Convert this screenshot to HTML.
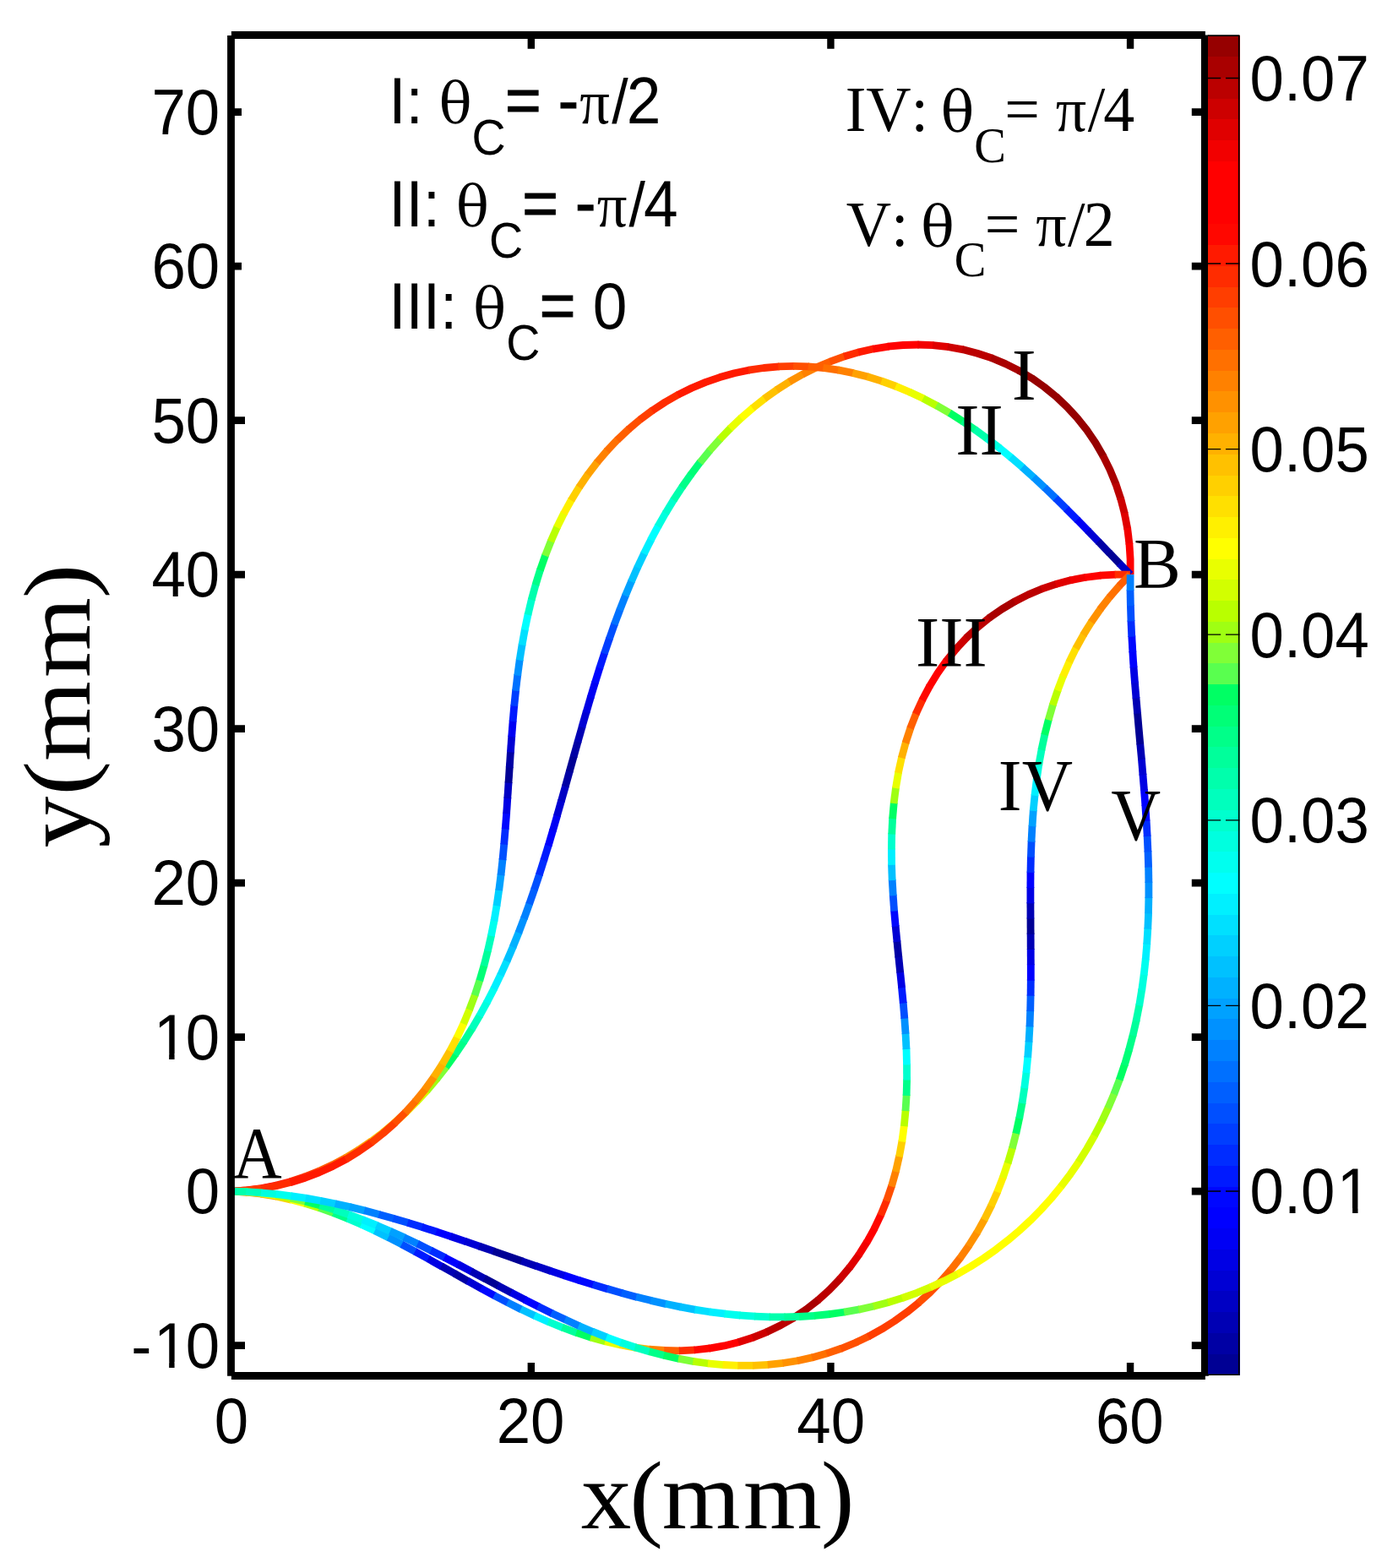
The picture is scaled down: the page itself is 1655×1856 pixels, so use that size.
<!DOCTYPE html>
<html lang="en"><head><meta charset="utf-8"><title>Curves from A to B for different end angles</title>
<style>html,body{margin:0;padding:0;background:#fff}body{width:1655px;height:1856px;overflow:hidden}svg{display:block}.s{font-family:"Liberation Sans",sans-serif}.r{font-family:"Liberation Serif",serif}.d{font-family:"DejaVu Serif","Liberation Serif",serif}text{fill:#000;font-kerning:none;white-space:pre}</style></head><body>
<svg width="1655" height="1856" viewBox="0 0 1655 1856">
<rect width="1655" height="1856" fill="#fff"/>
<g stroke="#000" fill="none" stroke-linecap="butt">
<path stroke-width="8.4" d="M628.82 1628.50 V1613.00 M628.82 41.45 V57.70 M983.44 1628.50 V1613.00 M983.44 41.45 V57.70 M1338.06 1628.50 V1613.00 M1338.06 41.45 V57.70"/>
<path stroke-width="8.8" d="M273.50 1592.60 H290.00 M1426.40 1592.60 H1410.80 M273.50 1410.10 H290.00 M1426.40 1410.10 H1410.80 M273.50 1227.60 H290.00 M1426.40 1227.60 H1410.80 M273.50 1045.10 H290.00 M1426.40 1045.10 H1410.80 M273.50 862.60 H290.00 M1426.40 862.60 H1410.80 M273.50 680.10 H290.00 M1426.40 680.10 H1410.80 M273.50 497.60 H290.00 M1426.40 497.60 H1410.80 M273.50 315.10 H286.00 M1426.40 315.10 H1410.80 M273.50 132.60 H286.00 M1426.40 132.60 H1410.80"/>
</g>
<defs><clipPath id="ax"><rect x="277.9" y="46.0" width="1144.1" height="1578.0"/></clipPath></defs>
<g fill="none" stroke-width="8.8" stroke-linecap="butt" stroke-linejoin="round" clip-path="url(#ax)">
<path d="M274.2 1410.1 L291.9 1408.9 L309.5 1406.6 L327.5 1403.0" stroke="#ff0000"/>
<path d="M326.3 1403.3 L344.6 1398.4" stroke="#ff1a00"/>
<path d="M343.5 1398.7 L361.5 1392.8" stroke="#ff2c00"/>
<path d="M360.4 1393.2 L378.0 1386.1" stroke="#ff3e00"/>
<path d="M376.9 1386.6 L394.2 1378.6" stroke="#ff5f00"/>
<path d="M393.1 1379.1 L409.9 1370.1" stroke="#ff7000"/>
<path d="M408.8 1370.7 L425.1 1360.8" stroke="#ff9100"/>
<path d="M424.1 1361.4 L439.9 1350.7" stroke="#ffa100"/>
<path d="M438.9 1351.4 L454.2 1339.9" stroke="#ffc100"/>
<path d="M453.2 1340.6 L467.9 1328.3" stroke="#ffd000"/>
<path d="M467.0 1329.1 L481.1 1316.2" stroke="#fff000"/>
<path d="M480.3 1317.0 L493.8 1303.4" stroke="#e9ff00"/>
<path d="M493.0 1304.3 L506.0 1290.2" stroke="#d2ff00"/>
<path d="M505.2 1291.1 L517.6 1276.4" stroke="#9fff13"/>
<path d="M516.9 1277.3 L528.7 1262.2" stroke="#80ff37"/>
<path d="M528.0 1263.1 L539.3 1247.5" stroke="#00ff64"/>
<path d="M538.6 1248.5 L549.4 1232.5" stroke="#00ff89"/>
<path d="M548.8 1233.5 L559.0 1217.2" stroke="#00ff9b"/>
<path d="M558.4 1218.2 L568.2 1201.6" stroke="#00ffbd"/>
<path d="M567.6 1202.6 L576.9 1185.7" stroke="#00ffdf"/>
<path d="M576.3 1186.7 L585.2 1169.5" stroke="#00ffef"/>
<path d="M584.6 1170.6 L593.0 1153.2" stroke="#00f0ff"/>
<path d="M592.5 1154.2 L600.5 1136.6" stroke="#00e0ff"/>
<path d="M600.0 1137.7 L607.6 1119.9" stroke="#00c1ff"/>
<path d="M607.1 1121.0 L614.4 1103.0" stroke="#00b1ff"/>
<path d="M613.9 1104.1 L620.8 1086.0" stroke="#0091ff"/>
<path d="M620.4 1087.2 L627.0 1068.9" stroke="#0081ff"/>
<path d="M626.6 1070.1 L633.0 1051.7" stroke="#005fff"/>
<path d="M632.6 1052.9 L638.7 1034.5" stroke="#004fff"/>
<path d="M638.3 1035.6 L644.2 1017.1" stroke="#002cff"/>
<path d="M643.8 1018.3 L649.5 999.7" stroke="#001aff"/>
<path d="M649.2 1000.9 L654.7 982.3" stroke="#0000ff"/>
<path d="M654.4 983.4 L659.8 964.8" stroke="#0000f4"/>
<path d="M659.4 965.9 L664.7 947.2" stroke="#0000d4"/>
<path d="M664.4 948.4 L669.7 929.7" stroke="#0000c4"/>
<path d="M669.3 930.9 L674.5 912.2" stroke="#0000a4"/>
<path d="M674.2 913.3 L679.4 894.6" stroke="#000094"/>
<path d="M679.1 895.8 L684.3 877.1" stroke="#0000a4"/>
<path d="M684.0 878.2 L689.3 859.6" stroke="#0000b4"/>
<path d="M688.9 860.7 L694.3 842.1" stroke="#0000d4"/>
<path d="M694.0 843.2 L699.5 824.6" stroke="#0000e4"/>
<path d="M699.1 825.7 L704.7 807.2" stroke="#0000f4"/>
<path d="M704.4 808.3 L710.2 789.8" stroke="#0007ff"/>
<path d="M709.8 790.9 L715.8 772.5" stroke="#001aff"/>
<path d="M715.4 773.6 L721.7 755.3" stroke="#003eff"/>
<path d="M721.3 756.4 L727.7 738.1" stroke="#004fff"/>
<path d="M727.3 739.3 L734.1 721.1" stroke="#0070ff"/>
<path d="M733.7 722.2 L740.8 704.2" stroke="#0081ff"/>
<path d="M740.3 705.3 L747.8 687.4" stroke="#00a1ff"/>
<path d="M747.3 688.5 L755.1 670.8" stroke="#00c1ff"/>
<path d="M754.6 671.9 L762.9 654.4" stroke="#00d0ff"/>
<path d="M762.3 655.5 L771.0 638.2" stroke="#00f0ff"/>
<path d="M770.4 639.2 L779.5 622.2" stroke="#00ffff"/>
<path d="M778.9 623.2 L788.5 606.4" stroke="#00ffdf"/>
<path d="M787.9 607.5 L797.9 591.0" stroke="#00ffce"/>
<path d="M797.3 592.0 L807.9 575.9" stroke="#00ffac"/>
<path d="M807.2 576.9 L818.3 561.1" stroke="#00ff89"/>
<path d="M817.6 562.1 L829.2 546.7" stroke="#00ff77"/>
<path d="M828.5 547.7 L840.7 532.8" stroke="#59ff4f"/>
<path d="M839.9 533.7 L852.7 519.3" stroke="#80ff37"/>
<path d="M851.8 520.2 L865.2 506.4" stroke="#b9ff00"/>
<path d="M864.3 507.3 L878.2 494.0" stroke="#e9ff00"/>
<path d="M877.3 494.8 L891.8 482.3" stroke="#ffff00"/>
<path d="M890.9 483.1 L905.9 471.2" stroke="#ffe000"/>
<path d="M904.9 471.9 L920.5 460.9" stroke="#ffc100"/>
<path d="M919.5 461.5 L935.6 451.3" stroke="#ffb100"/>
<path d="M934.5 451.9 L951.1 442.5" stroke="#ff9100"/>
<path d="M950.1 443.1 L967.1 434.6" stroke="#ff8100"/>
<path d="M966.0 435.1 L983.5 427.7" stroke="#ff5f00"/>
<path d="M982.4 428.1 L1000.3 421.7" stroke="#ff4f00"/>
<path d="M999.1 422.0 L1017.3 416.7" stroke="#ff2c00"/>
<path d="M1016.2 417.0 L1034.7 412.8" stroke="#ff1a00"/>
<path d="M1033.5 413.1 L1052.2 410.1" stroke="#ff0700"/>
<path d="M1051.0 410.2 L1069.2 408.5 L1087.6 408.0" stroke="#ff0000"/>
<path d="M1086.4 408.0 L1105.3 408.7" stroke="#f20000"/>
<path d="M1104.1 408.6 L1122.9 410.7" stroke="#e00000"/>
<path d="M1121.7 410.5 L1140.4 413.9" stroke="#cd0000"/>
<path d="M1139.2 413.6 L1157.0 418.2 L1174.4 423.9" stroke="#bb0000"/>
<path d="M1173.3 423.5 L1190.3 430.6 L1206.8 438.9" stroke="#a90000"/>
<path d="M1205.7 438.3 L1221.6 447.7 L1236.2 458.0 L1250.1 469.3 L1263.2 481.7 L1275.4 495.0 L1286.6 509.1 L1296.8 524.0 L1306.2 540.2" stroke="#960000"/>
<path d="M1305.6 539.1 L1313.9 555.9 L1321.1 573.3" stroke="#a90000"/>
<path d="M1320.7 572.2 L1326.8 590.6" stroke="#bb0000"/>
<path d="M1326.5 589.4 L1331.4 608.2" stroke="#cd0000"/>
<path d="M1331.1 607.0 L1334.8 626.1" stroke="#e00000"/>
<path d="M1334.6 624.9 L1337.0 644.2" stroke="#f20000"/>
<path d="M1336.9 643.0 L1338.1 661.8 L1338.1 680.1" stroke="#ff0000"/>
<path d="M274.2 1410.1 L291.9 1409.0 L310.1 1406.9" stroke="#ff3e00"/>
<path d="M308.9 1407.0 L327.0 1403.7 L344.8 1399.3" stroke="#ff2c00"/>
<path d="M343.6 1399.7 L361.2 1394.2 L377.8 1387.8 L394.0 1380.4 L410.3 1371.8" stroke="#ff1a00"/>
<path d="M409.3 1372.4 L425.0 1362.7 L440.2 1352.1" stroke="#ff2c00"/>
<path d="M439.2 1352.9 L453.7 1341.4 L467.6 1329.1" stroke="#ff3e00"/>
<path d="M466.7 1329.9 L480.3 1316.3" stroke="#ff4f00"/>
<path d="M479.5 1317.2 L492.4 1302.9" stroke="#ff7000"/>
<path d="M491.6 1303.8 L503.7 1288.9" stroke="#ff8100"/>
<path d="M502.9 1289.8 L514.2 1274.2" stroke="#ff9100"/>
<path d="M513.5 1275.2 L524.1 1259.0" stroke="#ffb100"/>
<path d="M523.4 1260.0 L533.2 1243.3" stroke="#ffc100"/>
<path d="M532.6 1244.4 L541.5 1227.3" stroke="#ffe000"/>
<path d="M541.0 1228.3 L549.2 1210.8" stroke="#ffff00"/>
<path d="M548.7 1211.9 L556.2 1194.0" stroke="#d2ff00"/>
<path d="M555.7 1195.1 L562.5 1177.0" stroke="#9fff13"/>
<path d="M562.1 1178.1 L568.1 1159.7" stroke="#59ff4f"/>
<path d="M567.8 1160.8 L573.2 1142.2" stroke="#00ff77"/>
<path d="M572.9 1143.3 L577.7 1124.5" stroke="#00ff9b"/>
<path d="M577.4 1125.7 L581.7 1106.8" stroke="#00ffbd"/>
<path d="M581.4 1107.9 L585.2 1088.9" stroke="#00ffef"/>
<path d="M585.0 1090.0 L588.2 1070.9" stroke="#00f0ff"/>
<path d="M588.0 1072.1 L590.8 1052.8" stroke="#00d0ff"/>
<path d="M590.7 1054.0 L593.1 1034.7" stroke="#00a1ff"/>
<path d="M593.0 1035.9 L595.1 1016.6" stroke="#0081ff"/>
<path d="M595.0 1017.8 L596.8 998.4" stroke="#004fff"/>
<path d="M596.7 999.6 L598.3 980.2" stroke="#002cff"/>
<path d="M598.2 981.4 L599.7 962.1" stroke="#0007ff"/>
<path d="M599.6 963.2 L600.9 943.8" stroke="#0000e4"/>
<path d="M600.8 945.0 L602.1 925.6" stroke="#0000c4"/>
<path d="M602.0 926.8 L603.3 907.4" stroke="#000094"/>
<path d="M603.2 908.6 L604.5 889.2" stroke="#0000a4"/>
<path d="M604.4 890.4 L605.8 871.0" stroke="#0000d4"/>
<path d="M605.7 872.2 L607.2 852.8" stroke="#0000f4"/>
<path d="M607.1 854.0 L608.8 834.7" stroke="#001aff"/>
<path d="M608.7 835.8 L610.7 816.5" stroke="#003eff"/>
<path d="M610.5 817.7 L612.8 798.4" stroke="#0070ff"/>
<path d="M612.7 799.6 L615.3 780.3" stroke="#0091ff"/>
<path d="M615.1 781.5 L618.2 762.3" stroke="#00c1ff"/>
<path d="M618.0 763.5 L621.5 744.4" stroke="#00e0ff"/>
<path d="M621.2 745.6 L625.2 726.5" stroke="#00ffff"/>
<path d="M625.0 727.7 L629.5 708.8" stroke="#00ffce"/>
<path d="M629.2 710.0 L634.3 691.3" stroke="#00ffac"/>
<path d="M634.0 692.4 L639.7 673.9" stroke="#00ff89"/>
<path d="M639.4 675.0 L645.8 656.7" stroke="#00ff64"/>
<path d="M645.4 657.8 L652.5 639.8" stroke="#80ff37"/>
<path d="M652.0 640.9 L659.8 623.2" stroke="#b9ff00"/>
<path d="M659.3 624.3 L667.9 607.0" stroke="#e9ff00"/>
<path d="M667.4 608.0 L676.7 591.1" stroke="#fff000"/>
<path d="M676.1 592.2 L686.2 575.7" stroke="#ffd000"/>
<path d="M685.6 576.7 L696.5 560.8" stroke="#ffb100"/>
<path d="M695.8 561.8 L707.5 546.5" stroke="#ffa100"/>
<path d="M706.7 547.5 L719.2 532.8" stroke="#ff8100"/>
<path d="M718.4 533.7 L731.6 519.8" stroke="#ff7000"/>
<path d="M730.8 520.7 L744.8 507.5" stroke="#ff5f00"/>
<path d="M743.9 508.3 L758.5 496.0" stroke="#ff4f00"/>
<path d="M757.6 496.8 L772.9 485.4" stroke="#ff3e00"/>
<path d="M772.0 486.1 L787.4 476.0 L803.5 466.8" stroke="#ff2c00"/>
<path d="M802.4 467.4 L818.9 459.3 L835.4 452.4 L852.2 446.6 L869.3 441.8 L887.2 438.0" stroke="#ff1a00"/>
<path d="M886.1 438.2 L904.2 435.5 L922.5 433.8" stroke="#ff2c00"/>
<path d="M921.3 433.9 L940.2 433.4" stroke="#ff3e00"/>
<path d="M939.0 433.4 L957.9 433.9" stroke="#ff4f00"/>
<path d="M956.7 433.9 L975.6 435.5" stroke="#ff5f00"/>
<path d="M974.4 435.4 L993.1 438.1" stroke="#ff7000"/>
<path d="M991.9 437.9 L1010.5 441.6" stroke="#ff8100"/>
<path d="M1009.3 441.4 L1027.7 446.1" stroke="#ffa100"/>
<path d="M1026.6 445.7 L1044.7 451.4" stroke="#ffb100"/>
<path d="M1043.5 451.0 L1061.4 457.5" stroke="#ffd000"/>
<path d="M1060.3 457.1 L1077.8 464.5" stroke="#fff000"/>
<path d="M1076.7 464.0 L1093.9 472.1" stroke="#e9ff00"/>
<path d="M1092.8 471.6 L1109.6 480.5" stroke="#b9ff00"/>
<path d="M1108.6 479.9 L1125.1 489.4" stroke="#80ff37"/>
<path d="M1124.1 488.8 L1140.2 499.0" stroke="#00ff64"/>
<path d="M1139.2 498.3 L1155.0 509.1" stroke="#00ff89"/>
<path d="M1154.0 508.4 L1169.4 519.6" stroke="#00ffac"/>
<path d="M1168.5 518.9 L1183.6 530.6" stroke="#00ffdf"/>
<path d="M1182.7 529.9 L1197.5 542.0" stroke="#00ffff"/>
<path d="M1196.5 541.2 L1211.1 553.7" stroke="#00e0ff"/>
<path d="M1210.2 552.9 L1224.4 565.7" stroke="#00b1ff"/>
<path d="M1223.5 564.9 L1237.5 578.0" stroke="#0091ff"/>
<path d="M1236.7 577.2 L1250.5 590.5" stroke="#0070ff"/>
<path d="M1249.6 589.6 L1263.3 603.1" stroke="#003eff"/>
<path d="M1262.4 602.3 L1275.9 615.9" stroke="#001aff"/>
<path d="M1275.1 615.0 L1288.5 628.8" stroke="#0000f4"/>
<path d="M1287.6 627.9 L1301.0 641.7" stroke="#0000d4"/>
<path d="M1300.1 640.8 L1313.4 654.7" stroke="#0000a4"/>
<path d="M1312.6 653.8 L1325.9 667.6" stroke="#000094"/>
<path d="M1325.1 666.8 L1338.1 680.1" stroke="#0000c4"/>
<path d="M274.2 1410.1 L292.5 1411.2" stroke="#ff4f00"/>
<path d="M291.3 1411.1 L310.1 1413.2" stroke="#ff8100"/>
<path d="M308.9 1413.1 L327.6 1416.2" stroke="#ffa100"/>
<path d="M326.4 1416.0 L344.9 1420.1" stroke="#ffd000"/>
<path d="M343.8 1419.8 L362.1 1424.7" stroke="#ffff00"/>
<path d="M360.9 1424.4 L379.0 1430.0" stroke="#b9ff00"/>
<path d="M377.9 1429.7 L395.8 1436.1" stroke="#59ff4f"/>
<path d="M394.7 1435.6 L412.3 1442.7" stroke="#00ff89"/>
<path d="M411.2 1442.2 L428.7 1449.8" stroke="#00ffce"/>
<path d="M427.6 1449.3 L444.8 1457.3" stroke="#00ffff"/>
<path d="M443.7 1456.8 L460.8 1465.2" stroke="#00c1ff"/>
<path d="M459.7 1464.7 L476.6 1473.4" stroke="#0091ff"/>
<path d="M475.5 1472.9 L492.3 1481.9" stroke="#004fff"/>
<path d="M491.3 1481.3 L507.9 1490.5" stroke="#001aff"/>
<path d="M506.9 1490.0 L523.5 1499.3" stroke="#0000e4"/>
<path d="M522.5 1498.7 L539.1 1508.0" stroke="#0000b4"/>
<path d="M538.0 1507.4 L554.6 1516.8" stroke="#0000a4"/>
<path d="M553.6 1516.2 L570.2 1525.4" stroke="#0000d4"/>
<path d="M569.2 1524.9 L585.9 1533.9" stroke="#0007ff"/>
<path d="M584.9 1533.4 L601.7 1542.2" stroke="#004fff"/>
<path d="M600.7 1541.6 L617.7 1550.2" stroke="#0081ff"/>
<path d="M616.6 1549.6 L633.8 1557.8" stroke="#00c1ff"/>
<path d="M632.7 1557.3 L650.1 1565.0" stroke="#00f0ff"/>
<path d="M649.0 1564.5 L666.6 1571.6" stroke="#00ffce"/>
<path d="M665.5 1571.2 L683.3 1577.8" stroke="#00ff9b"/>
<path d="M682.2 1577.4 L700.2 1583.2" stroke="#00ff64"/>
<path d="M699.1 1582.9 L717.3 1588.0" stroke="#9fff13"/>
<path d="M716.2 1587.7 L734.6 1592.0" stroke="#e9ff00"/>
<path d="M733.5 1591.7 L752.1 1595.1" stroke="#ffe000"/>
<path d="M750.9 1594.9 L769.7 1597.3" stroke="#ffb100"/>
<path d="M768.5 1597.2 L787.4 1598.5" stroke="#ff8100"/>
<path d="M786.2 1598.5 L805.1 1598.8" stroke="#ff5f00"/>
<path d="M803.9 1598.8 L822.9 1597.9" stroke="#ff2c00"/>
<path d="M821.7 1598.0 L840.5 1595.9" stroke="#ff0700"/>
<path d="M839.3 1596.1 L857.4 1592.9 L875.2 1588.5" stroke="#ff0000"/>
<path d="M874.0 1588.8 L892.1 1583.0" stroke="#e00000"/>
<path d="M891.0 1583.4 L908.6 1576.4" stroke="#cd0000"/>
<path d="M907.5 1576.8 L924.1 1568.8 L940.1 1559.6" stroke="#bb0000"/>
<path d="M939.1 1560.2 L954.4 1549.9 L969.0 1538.5" stroke="#a90000"/>
<path d="M968.1 1539.3 L981.9 1526.8 L994.8 1513.4" stroke="#bb0000"/>
<path d="M994.0 1514.3 L1006.3 1499.6" stroke="#cd0000"/>
<path d="M1005.6 1500.6 L1017.0 1485.0" stroke="#e00000"/>
<path d="M1016.3 1486.0 L1026.6 1469.7" stroke="#f20000"/>
<path d="M1026.0 1470.8 L1035.4 1453.8" stroke="#ff0000"/>
<path d="M1034.8 1454.9 L1043.1 1437.4" stroke="#ff0700"/>
<path d="M1042.6 1438.5 L1049.9 1420.6" stroke="#ff2c00"/>
<path d="M1049.5 1421.7 L1055.7 1403.3" stroke="#ff4f00"/>
<path d="M1055.4 1404.5 L1060.7 1385.8" stroke="#ff8100"/>
<path d="M1060.4 1387.0 L1064.7 1368.0" stroke="#ffa100"/>
<path d="M1064.5 1369.2 L1068.0 1350.1" stroke="#ffd000"/>
<path d="M1067.8 1351.3 L1070.4 1332.0" stroke="#ffff00"/>
<path d="M1070.3 1333.2 L1072.1 1313.8" stroke="#b9ff00"/>
<path d="M1072.0 1315.0 L1073.2 1295.6" stroke="#59ff4f"/>
<path d="M1073.1 1296.8 L1073.6 1277.4" stroke="#00ff89"/>
<path d="M1073.6 1278.6 L1073.5 1259.1" stroke="#00ffce"/>
<path d="M1073.5 1260.3 L1073.0 1240.9" stroke="#00ffff"/>
<path d="M1073.0 1242.1 L1072.0 1222.7" stroke="#00c1ff"/>
<path d="M1072.1 1223.9 L1070.7 1204.5" stroke="#0091ff"/>
<path d="M1070.8 1205.7 L1069.2 1186.3" stroke="#004fff"/>
<path d="M1069.3 1187.5 L1067.4 1168.1" stroke="#001aff"/>
<path d="M1067.6 1169.3 L1065.6 1150.0" stroke="#0000e4"/>
<path d="M1065.7 1151.2 L1063.7 1131.8" stroke="#0000b4"/>
<path d="M1063.8 1133.0 L1061.9 1113.7" stroke="#0000a4"/>
<path d="M1062.0 1114.9 L1060.1 1095.5" stroke="#0000d4"/>
<path d="M1060.2 1096.7 L1058.5 1077.3" stroke="#0007ff"/>
<path d="M1058.6 1078.5 L1057.2 1059.1" stroke="#004fff"/>
<path d="M1057.3 1060.3 L1056.2 1040.9" stroke="#0081ff"/>
<path d="M1056.2 1042.1 L1055.5 1022.7" stroke="#00c1ff"/>
<path d="M1055.6 1023.9 L1055.4 1004.4" stroke="#00f0ff"/>
<path d="M1055.4 1005.6 L1055.7 986.2" stroke="#00ffce"/>
<path d="M1055.7 987.4 L1056.7 968.0" stroke="#00ff9b"/>
<path d="M1056.6 969.1 L1058.3 949.8" stroke="#00ff64"/>
<path d="M1058.1 951.0 L1060.6 931.7" stroke="#9fff13"/>
<path d="M1060.4 932.9 L1063.7 913.7" stroke="#e9ff00"/>
<path d="M1063.4 914.9 L1067.6 895.9" stroke="#ffe000"/>
<path d="M1067.3 897.1 L1072.4 878.3" stroke="#ffb100"/>
<path d="M1072.0 879.5 L1078.1 861.0" stroke="#ff8100"/>
<path d="M1077.6 862.2 L1084.7 844.1" stroke="#ff5f00"/>
<path d="M1084.2 845.2 L1092.3 827.6" stroke="#ff2c00"/>
<path d="M1091.7 828.7 L1100.8 811.6" stroke="#ff0700"/>
<path d="M1100.2 812.7 L1110.0 796.8 L1120.8 781.5" stroke="#ff0000"/>
<path d="M1120.1 782.5 L1132.3 767.6" stroke="#e00000"/>
<path d="M1131.5 768.5 L1144.6 754.4" stroke="#cd0000"/>
<path d="M1143.7 755.3 L1157.3 742.6 L1171.7 730.9" stroke="#bb0000"/>
<path d="M1170.7 731.7 L1185.9 721.1 L1201.8 711.6" stroke="#a90000"/>
<path d="M1200.7 712.2 L1217.2 703.9 L1234.1 696.8" stroke="#bb0000"/>
<path d="M1233.0 697.2 L1251.0 691.1" stroke="#cd0000"/>
<path d="M1249.8 691.4 L1268.2 686.6" stroke="#e00000"/>
<path d="M1267.0 686.9 L1285.6 683.3" stroke="#f20000"/>
<path d="M1284.4 683.5 L1303.2 681.1" stroke="#ff0000"/>
<path d="M1302.0 681.2 L1320.9 680.1" stroke="#ff0700"/>
<path d="M1319.7 680.1 L1338.1 680.1" stroke="#ff2c00"/>
<path d="M274.2 1410.1 L292.5 1411.0" stroke="#ffe000"/>
<path d="M291.3 1410.9 L310.2 1412.7" stroke="#fff000"/>
<path d="M309.0 1412.6 L327.7 1415.2" stroke="#e9ff00"/>
<path d="M326.5 1415.0 L345.2 1418.5" stroke="#b9ff00"/>
<path d="M344.0 1418.2 L362.5 1422.4" stroke="#80ff37"/>
<path d="M361.3 1422.1 L379.7 1427.0" stroke="#00ff64"/>
<path d="M378.5 1426.6 L396.7 1432.1" stroke="#00ff9b"/>
<path d="M395.5 1431.8 L413.5 1437.9" stroke="#00ffbd"/>
<path d="M412.4 1437.5 L430.2 1444.1" stroke="#00ffdf"/>
<path d="M429.1 1443.6 L446.7 1450.7" stroke="#00f0ff"/>
<path d="M445.6 1450.3 L463.0 1457.8" stroke="#00d0ff"/>
<path d="M461.9 1457.3 L479.3 1465.1" stroke="#00a1ff"/>
<path d="M478.2 1464.6 L495.3 1472.8" stroke="#0081ff"/>
<path d="M494.3 1472.3 L511.3 1480.7" stroke="#004fff"/>
<path d="M510.2 1480.2 L527.2 1488.8" stroke="#002cff"/>
<path d="M526.1 1488.3 L543.0 1497.1" stroke="#0000ff"/>
<path d="M542.0 1496.5 L558.8 1505.4" stroke="#0000e4"/>
<path d="M557.7 1504.9 L574.5 1513.8" stroke="#0000b4"/>
<path d="M573.5 1513.2 L590.3 1522.2" stroke="#000094"/>
<path d="M589.2 1521.6 L606.1 1530.5" stroke="#0000b4"/>
<path d="M605.0 1529.9 L621.9 1538.7" stroke="#0000e4"/>
<path d="M620.8 1538.2 L637.8 1546.8" stroke="#0000ff"/>
<path d="M636.7 1546.3 L653.8 1554.7" stroke="#002cff"/>
<path d="M652.7 1554.2 L669.9 1562.3" stroke="#005fff"/>
<path d="M668.8 1561.8 L686.1 1569.7" stroke="#0081ff"/>
<path d="M685.0 1569.2 L702.5 1576.7" stroke="#00b1ff"/>
<path d="M701.4 1576.2 L719.0 1583.2" stroke="#00d0ff"/>
<path d="M717.9 1582.8 L735.7 1589.4" stroke="#00ffff"/>
<path d="M734.6 1589.0 L752.6 1595.0" stroke="#00ffdf"/>
<path d="M751.5 1594.7 L769.6 1600.1" stroke="#00ffbd"/>
<path d="M768.5 1599.8 L786.8 1604.6" stroke="#00ff89"/>
<path d="M785.7 1604.3 L804.2 1608.5" stroke="#00ff64"/>
<path d="M803.0 1608.2 L821.6 1611.6" stroke="#80ff37"/>
<path d="M820.4 1611.4 L839.2 1614.0" stroke="#b9ff00"/>
<path d="M838.0 1613.9 L856.9 1615.6" stroke="#e9ff00"/>
<path d="M855.7 1615.5 L874.6 1616.4" stroke="#fff000"/>
<path d="M873.4 1616.3 L892.3 1616.3" stroke="#ffd000"/>
<path d="M891.1 1616.3 L910.0 1615.3" stroke="#ffc100"/>
<path d="M908.8 1615.4 L927.7 1613.4" stroke="#ffa100"/>
<path d="M926.5 1613.5 L945.2 1610.5" stroke="#ff9100"/>
<path d="M944.0 1610.7 L962.5 1606.6" stroke="#ff8100"/>
<path d="M961.3 1606.9 L979.6 1601.8" stroke="#ff7000"/>
<path d="M978.5 1602.2 L996.4 1596.0" stroke="#ff5f00"/>
<path d="M995.3 1596.5 L1012.3 1589.5 L1029.0 1581.6" stroke="#ff4f00"/>
<path d="M1027.9 1582.1 L1044.0 1573.2 L1059.1 1563.6 L1073.7 1553.2 L1088.1 1541.6" stroke="#ff3e00"/>
<path d="M1087.2 1542.3 L1100.9 1529.9 L1113.9 1516.6" stroke="#ff4f00"/>
<path d="M1113.1 1517.5 L1125.8 1503.0" stroke="#ff5f00"/>
<path d="M1125.0 1503.9 L1136.9 1488.8" stroke="#ff7000"/>
<path d="M1136.2 1489.8 L1147.3 1474.0" stroke="#ff8100"/>
<path d="M1146.6 1475.0 L1156.9 1458.6" stroke="#ff9100"/>
<path d="M1156.3 1459.7 L1165.7 1442.8" stroke="#ffa100"/>
<path d="M1165.1 1443.9 L1173.8 1426.6" stroke="#ffc100"/>
<path d="M1173.3 1427.6 L1181.1 1409.9" stroke="#ffd000"/>
<path d="M1180.6 1411.0 L1187.6 1393.0" stroke="#fff000"/>
<path d="M1187.2 1394.1 L1193.4 1375.7" stroke="#e9ff00"/>
<path d="M1193.1 1376.9 L1198.6 1358.3" stroke="#b9ff00"/>
<path d="M1198.3 1359.4 L1203.1 1340.6" stroke="#80ff37"/>
<path d="M1202.8 1341.8 L1206.9 1322.8" stroke="#00ff64"/>
<path d="M1206.7 1324.0 L1210.2 1304.9" stroke="#00ff89"/>
<path d="M1210.0 1306.0 L1212.9 1286.8" stroke="#00ffbd"/>
<path d="M1212.7 1288.0 L1215.1 1268.7" stroke="#00ffdf"/>
<path d="M1214.9 1269.9 L1216.8 1250.5" stroke="#00ffff"/>
<path d="M1216.7 1251.7 L1218.1 1232.3" stroke="#00d0ff"/>
<path d="M1218.0 1233.5 L1219.1 1214.1" stroke="#00b1ff"/>
<path d="M1219.0 1215.3 L1219.7 1195.9" stroke="#0081ff"/>
<path d="M1219.7 1197.1 L1220.1 1177.6" stroke="#005fff"/>
<path d="M1220.1 1178.8 L1220.3 1159.4" stroke="#002cff"/>
<path d="M1220.3 1160.6 L1220.3 1141.1" stroke="#0000ff"/>
<path d="M1220.3 1142.3 L1220.2 1122.9" stroke="#0000e4"/>
<path d="M1220.2 1124.1 L1220.1 1104.6" stroke="#0000b4"/>
<path d="M1220.1 1105.8 L1220.0 1086.4" stroke="#000094"/>
<path d="M1220.0 1087.6 L1219.9 1068.1" stroke="#0000b4"/>
<path d="M1219.9 1069.3 L1219.9 1049.9" stroke="#0000e4"/>
<path d="M1219.9 1051.1 L1220.0 1031.6" stroke="#0000ff"/>
<path d="M1220.0 1032.8 L1220.4 1013.4" stroke="#002cff"/>
<path d="M1220.4 1014.6 L1221.1 995.2" stroke="#004fff"/>
<path d="M1221.0 996.4 L1222.0 976.9" stroke="#0081ff"/>
<path d="M1222.0 978.1 L1223.3 958.7" stroke="#00a1ff"/>
<path d="M1223.2 959.9 L1225.1 940.6" stroke="#00d0ff"/>
<path d="M1224.9 941.8 L1227.3 922.5" stroke="#00f0ff"/>
<path d="M1227.1 923.7 L1229.9 904.4" stroke="#00ffdf"/>
<path d="M1229.7 905.6 L1233.2 886.5" stroke="#00ffbd"/>
<path d="M1232.9 887.7 L1237.0 868.7" stroke="#00ff9b"/>
<path d="M1236.7 869.8 L1241.5 851.0" stroke="#00ff64"/>
<path d="M1241.2 852.2 L1246.6 833.5" stroke="#80ff37"/>
<path d="M1246.2 834.7 L1252.4 816.3" stroke="#b9ff00"/>
<path d="M1252.0 817.4 L1258.9 799.3" stroke="#e9ff00"/>
<path d="M1258.5 800.4 L1266.2 782.7" stroke="#fff000"/>
<path d="M1265.7 783.8 L1274.2 766.4" stroke="#ffe000"/>
<path d="M1273.7 767.5 L1283.1 750.6" stroke="#ffc100"/>
<path d="M1282.4 751.6 L1292.6 735.2" stroke="#ffb100"/>
<path d="M1292.0 736.2 L1303.0 720.4" stroke="#ff9100"/>
<path d="M1302.3 721.3 L1314.1 706.1" stroke="#ff8100"/>
<path d="M1313.3 707.1 L1325.9 692.6" stroke="#ff7000"/>
<path d="M1325.1 693.4 L1338.1 680.1" stroke="#ff5f00"/>
<path d="M274.2 1410.1 L292.5 1410.7" stroke="#00ffac"/>
<path d="M291.3 1410.6 L310.2 1411.9" stroke="#00ffbd"/>
<path d="M309.0 1411.8 L327.9 1413.6" stroke="#00ffdf"/>
<path d="M326.7 1413.4 L345.5 1415.8" stroke="#00ffef"/>
<path d="M344.3 1415.6 L363.0 1418.4" stroke="#00f0ff"/>
<path d="M361.8 1418.2 L380.5 1421.5" stroke="#00e0ff"/>
<path d="M379.3 1421.3 L397.9 1425.0" stroke="#00d0ff"/>
<path d="M396.7 1424.8 L415.2 1428.9" stroke="#00b1ff"/>
<path d="M414.0 1428.6 L432.5 1433.1" stroke="#00a1ff"/>
<path d="M431.3 1432.8 L449.6 1437.7" stroke="#0081ff"/>
<path d="M448.5 1437.4 L466.7 1442.5" stroke="#005fff"/>
<path d="M465.6 1442.2 L483.8 1447.5" stroke="#004fff"/>
<path d="M482.6 1447.2 L500.8 1452.8" stroke="#002cff"/>
<path d="M499.6 1452.5 L517.7 1458.3" stroke="#001aff"/>
<path d="M516.5 1457.9 L534.5 1463.9" stroke="#0000ff"/>
<path d="M533.4 1463.5 L551.4 1469.6" stroke="#0000e4"/>
<path d="M550.3 1469.2 L568.2 1475.4" stroke="#0000d4"/>
<path d="M567.1 1475.0 L585.0 1481.2" stroke="#0000b4"/>
<path d="M583.9 1480.8 L601.2 1486.9 L618.6 1493.0" stroke="#000094"/>
<path d="M617.4 1492.6 L635.4 1498.8" stroke="#0000b4"/>
<path d="M634.3 1498.4 L652.2 1504.5" stroke="#0000c4"/>
<path d="M651.1 1504.1 L669.1 1510.1" stroke="#0000e4"/>
<path d="M668.0 1509.7 L686.0 1515.6" stroke="#0000ff"/>
<path d="M684.9 1515.2 L703.0 1520.9" stroke="#0007ff"/>
<path d="M701.8 1520.5 L720.0 1526.0" stroke="#002cff"/>
<path d="M718.9 1525.6 L737.1 1530.8" stroke="#004fff"/>
<path d="M735.9 1530.5 L754.3 1535.4" stroke="#005fff"/>
<path d="M753.1 1535.1 L771.5 1539.6" stroke="#0081ff"/>
<path d="M770.3 1539.4 L788.8 1543.6" stroke="#0091ff"/>
<path d="M787.7 1543.3 L806.2 1547.1" stroke="#00b1ff"/>
<path d="M805.0 1546.9 L823.7 1550.3" stroke="#00c1ff"/>
<path d="M822.5 1550.1 L841.2 1553.0" stroke="#00e0ff"/>
<path d="M840.0 1552.8 L858.8 1555.2" stroke="#00f0ff"/>
<path d="M857.6 1555.1 L876.5 1557.0" stroke="#00ffef"/>
<path d="M875.3 1556.9 L894.2 1558.2" stroke="#00ffdf"/>
<path d="M893.0 1558.1 L911.9 1558.9" stroke="#00ffce"/>
<path d="M910.7 1558.8 L929.6 1558.9" stroke="#00ffac"/>
<path d="M928.4 1559.0 L947.3 1558.4" stroke="#00ff9b"/>
<path d="M946.1 1558.5 L965.0 1557.3" stroke="#00ff89"/>
<path d="M963.8 1557.4 L982.7 1555.5" stroke="#00ff77"/>
<path d="M981.5 1555.6 L1000.2 1553.0" stroke="#00ff64"/>
<path d="M999.1 1553.2 L1017.7 1549.8" stroke="#59ff4f"/>
<path d="M1016.5 1550.1 L1035.0 1546.0" stroke="#80ff37"/>
<path d="M1033.9 1546.3 L1052.2 1541.4" stroke="#9fff13"/>
<path d="M1051.0 1541.7 L1069.2 1536.1" stroke="#b9ff00"/>
<path d="M1068.0 1536.5 L1085.3 1530.3 L1102.4 1523.3" stroke="#d2ff00"/>
<path d="M1101.3 1523.8 L1118.0 1516.1 L1134.4 1507.6" stroke="#e9ff00"/>
<path d="M1133.3 1508.2 L1149.3 1499.0 L1164.4 1489.4 L1179.0 1479.1 L1193.2 1468.1 L1206.9 1456.5 L1220.1 1444.3 L1232.7 1431.5 L1244.8 1418.1 L1256.6 1403.7" stroke="#ffff00"/>
<path d="M1255.9 1404.7 L1267.1 1389.8 L1277.7 1374.4" stroke="#e9ff00"/>
<path d="M1277.0 1375.4 L1286.9 1359.5 L1296.2 1343.3" stroke="#d2ff00"/>
<path d="M1295.6 1344.3 L1304.5 1327.2" stroke="#b9ff00"/>
<path d="M1304.0 1328.2 L1312.2 1310.7" stroke="#9fff13"/>
<path d="M1311.7 1311.8 L1319.3 1294.0" stroke="#80ff37"/>
<path d="M1318.8 1295.1 L1325.7 1277.0" stroke="#59ff4f"/>
<path d="M1325.3 1278.1 L1331.5 1259.7" stroke="#00ff64"/>
<path d="M1331.2 1260.9 L1336.7 1242.3" stroke="#00ff77"/>
<path d="M1336.4 1243.4 L1341.3 1224.7" stroke="#00ff89"/>
<path d="M1341.1 1225.8 L1345.4 1206.9" stroke="#00ff9b"/>
<path d="M1345.1 1208.1 L1348.9 1189.0" stroke="#00ffac"/>
<path d="M1348.7 1190.2 L1351.8 1171.0" stroke="#00ffce"/>
<path d="M1351.7 1172.2 L1354.3 1152.9" stroke="#00ffdf"/>
<path d="M1354.2 1154.1 L1356.3 1134.8" stroke="#00ffef"/>
<path d="M1356.2 1136.0 L1357.8 1116.6" stroke="#00f0ff"/>
<path d="M1357.7 1117.8 L1358.9 1098.4" stroke="#00e0ff"/>
<path d="M1358.8 1099.6 L1359.6 1080.2" stroke="#00c1ff"/>
<path d="M1359.5 1081.4 L1359.9 1061.9" stroke="#00b1ff"/>
<path d="M1359.9 1063.1 L1359.9 1043.7" stroke="#0091ff"/>
<path d="M1359.9 1044.9 L1359.6 1025.4" stroke="#0081ff"/>
<path d="M1359.6 1026.6 L1359.0 1007.2" stroke="#005fff"/>
<path d="M1359.0 1008.4 L1358.1 988.9" stroke="#004fff"/>
<path d="M1358.2 990.1 L1357.1 970.7" stroke="#002cff"/>
<path d="M1357.1 971.9 L1355.8 952.5" stroke="#0007ff"/>
<path d="M1355.9 953.7 L1354.4 934.3" stroke="#0000ff"/>
<path d="M1354.5 935.5 L1352.9 916.1" stroke="#0000e4"/>
<path d="M1353.0 917.3 L1351.4 898.0" stroke="#0000d4"/>
<path d="M1351.5 899.2 L1349.7 879.8" stroke="#0000b4"/>
<path d="M1349.8 881.0 L1348.1 862.2 L1346.5 843.5" stroke="#000094"/>
<path d="M1346.6 844.6 L1344.9 825.3" stroke="#0000b4"/>
<path d="M1345.0 826.5 L1343.4 807.1" stroke="#0000d4"/>
<path d="M1343.5 808.3 L1342.0 788.9" stroke="#0000e4"/>
<path d="M1342.1 790.1 L1340.8 770.7" stroke="#0000ff"/>
<path d="M1340.9 771.9 L1339.8 752.5" stroke="#0007ff"/>
<path d="M1339.8 753.7 L1338.9 734.2" stroke="#002cff"/>
<path d="M1339.0 735.4 L1338.4 716.0" stroke="#004fff"/>
<path d="M1338.4 717.2 L1338.0 697.8" stroke="#005fff"/>
<path d="M1338.1 698.9 L1338.1 680.1" stroke="#0081ff"/>
</g>
<text class="r" transform="translate(275.51 1394.00) scale(0.9270 1)" font-size="86.9">A</text>
<text class="r" transform="translate(1341.88 695.75) scale(0.9830 1)" font-size="85.3">B</text>
<text class="r" transform="translate(1197.74 473.00) scale(1.0000 1)" font-size="87.2">I</text>
<text class="r" transform="translate(1131.24 537.80) scale(0.9770 1)" font-size="86.9">II</text>
<text class="r" transform="translate(1083.90 789.10) scale(1.0000 1)" font-size="84.8">III</text>
<text class="r" transform="translate(1181.87 958.50) scale(0.9550 1)" font-size="87.5">IV</text>
<text class="r" transform="translate(1315.19 993.80) scale(0.9390 1)" font-size="86.9">V</text>
<g stroke="#000" fill="none" stroke-linecap="butt">
<path stroke-width="8.8" d="M273.50 42.00 V1628.80"/>
<path stroke-width="8.9" d="M273.90 41.45 H1426.90"/>
<path stroke-width="8.9" d="M273.90 1628.50 H1426.90"/>
<path stroke-width="8.9" d="M1426.40 41.40 V1628.80"/>
</g>
<g shape-rendering="crispEdges">
<rect x="1429.9" y="1602.43" width="37.6" height="25.07" fill="#000094"/>
<rect x="1429.9" y="1577.67" width="37.6" height="25.07" fill="#0000a4"/>
<rect x="1429.9" y="1552.90" width="37.6" height="25.07" fill="#0000b4"/>
<rect x="1429.9" y="1528.13" width="37.6" height="25.07" fill="#0000c4"/>
<rect x="1429.9" y="1503.36" width="37.6" height="25.07" fill="#0000d4"/>
<rect x="1429.9" y="1478.60" width="37.6" height="25.07" fill="#0000e4"/>
<rect x="1429.9" y="1453.83" width="37.6" height="25.07" fill="#0000f4"/>
<rect x="1429.9" y="1429.06" width="37.6" height="25.07" fill="#0000ff"/>
<rect x="1429.9" y="1404.30" width="37.6" height="25.07" fill="#0007ff"/>
<rect x="1429.9" y="1379.53" width="37.6" height="25.07" fill="#001aff"/>
<rect x="1429.9" y="1354.76" width="37.6" height="25.07" fill="#002cff"/>
<rect x="1429.9" y="1329.99" width="37.6" height="25.07" fill="#003eff"/>
<rect x="1429.9" y="1305.23" width="37.6" height="25.07" fill="#004fff"/>
<rect x="1429.9" y="1280.46" width="37.6" height="25.07" fill="#005fff"/>
<rect x="1429.9" y="1255.69" width="37.6" height="25.07" fill="#0070ff"/>
<rect x="1429.9" y="1230.92" width="37.6" height="25.07" fill="#0081ff"/>
<rect x="1429.9" y="1206.16" width="37.6" height="25.07" fill="#0091ff"/>
<rect x="1429.9" y="1181.39" width="37.6" height="25.07" fill="#00a1ff"/>
<rect x="1429.9" y="1156.62" width="37.6" height="25.07" fill="#00b1ff"/>
<rect x="1429.9" y="1131.86" width="37.6" height="25.07" fill="#00c1ff"/>
<rect x="1429.9" y="1107.09" width="37.6" height="25.07" fill="#00d0ff"/>
<rect x="1429.9" y="1082.32" width="37.6" height="25.07" fill="#00e0ff"/>
<rect x="1429.9" y="1057.55" width="37.6" height="25.07" fill="#00f0ff"/>
<rect x="1429.9" y="1032.79" width="37.6" height="25.07" fill="#00ffff"/>
<rect x="1429.9" y="1008.02" width="37.6" height="25.07" fill="#00ffef"/>
<rect x="1429.9" y="983.25" width="37.6" height="25.07" fill="#00ffdf"/>
<rect x="1429.9" y="958.49" width="37.6" height="25.07" fill="#00ffce"/>
<rect x="1429.9" y="933.72" width="37.6" height="25.07" fill="#00ffbd"/>
<rect x="1429.9" y="908.95" width="37.6" height="25.07" fill="#00ffac"/>
<rect x="1429.9" y="884.18" width="37.6" height="25.07" fill="#00ff9b"/>
<rect x="1429.9" y="859.42" width="37.6" height="25.07" fill="#00ff89"/>
<rect x="1429.9" y="834.65" width="37.6" height="25.07" fill="#00ff77"/>
<rect x="1429.9" y="809.88" width="37.6" height="25.07" fill="#00ff64"/>
<rect x="1429.9" y="785.12" width="37.6" height="25.07" fill="#59ff4f"/>
<rect x="1429.9" y="760.35" width="37.6" height="25.07" fill="#80ff37"/>
<rect x="1429.9" y="735.58" width="37.6" height="25.07" fill="#9fff13"/>
<rect x="1429.9" y="710.81" width="37.6" height="25.07" fill="#b9ff00"/>
<rect x="1429.9" y="686.05" width="37.6" height="25.07" fill="#d2ff00"/>
<rect x="1429.9" y="661.28" width="37.6" height="25.07" fill="#e9ff00"/>
<rect x="1429.9" y="636.51" width="37.6" height="25.07" fill="#ffff00"/>
<rect x="1429.9" y="611.75" width="37.6" height="25.07" fill="#fff000"/>
<rect x="1429.9" y="586.98" width="37.6" height="25.07" fill="#ffe000"/>
<rect x="1429.9" y="562.21" width="37.6" height="25.07" fill="#ffd000"/>
<rect x="1429.9" y="537.44" width="37.6" height="25.07" fill="#ffc100"/>
<rect x="1429.9" y="512.68" width="37.6" height="25.07" fill="#ffb100"/>
<rect x="1429.9" y="487.91" width="37.6" height="25.07" fill="#ffa100"/>
<rect x="1429.9" y="463.14" width="37.6" height="25.07" fill="#ff9100"/>
<rect x="1429.9" y="438.38" width="37.6" height="25.07" fill="#ff8100"/>
<rect x="1429.9" y="413.61" width="37.6" height="25.07" fill="#ff7000"/>
<rect x="1429.9" y="388.84" width="37.6" height="25.07" fill="#ff5f00"/>
<rect x="1429.9" y="364.07" width="37.6" height="25.07" fill="#ff4f00"/>
<rect x="1429.9" y="339.31" width="37.6" height="25.07" fill="#ff3e00"/>
<rect x="1429.9" y="314.54" width="37.6" height="25.07" fill="#ff2c00"/>
<rect x="1429.9" y="289.77" width="37.6" height="25.07" fill="#ff1a00"/>
<rect x="1429.9" y="265.00" width="37.6" height="25.07" fill="#ff0700"/>
<rect x="1429.9" y="240.24" width="37.6" height="25.07" fill="#ff0000"/>
<rect x="1429.9" y="215.47" width="37.6" height="25.07" fill="#ff0000"/>
<rect x="1429.9" y="190.70" width="37.6" height="25.07" fill="#ff0000"/>
<rect x="1429.9" y="165.94" width="37.6" height="25.07" fill="#f20000"/>
<rect x="1429.9" y="141.17" width="37.6" height="25.07" fill="#e00000"/>
<rect x="1429.9" y="116.40" width="37.6" height="25.07" fill="#cd0000"/>
<rect x="1429.9" y="91.63" width="37.6" height="25.07" fill="#bb0000"/>
<rect x="1429.9" y="66.87" width="37.6" height="25.07" fill="#a90000"/>
<rect x="1429.9" y="42.10" width="37.6" height="25.07" fill="#960000"/>
</g>
<path d="M1429.9 42.1 H1466.7 V1627.2 H1429.9" fill="none" stroke="#000" stroke-width="1.6"/>
<path d="M1429.9 1410.0 H1445.2 M1451.0 1410.0 H1467.5 M1429.9 1190.4 H1445.2 M1451.0 1190.4 H1467.5 M1429.9 970.8 H1445.2 M1451.0 970.8 H1467.5 M1429.9 751.2 H1445.2 M1451.0 751.2 H1467.5 M1429.9 531.6 H1445.2 M1451.0 531.6 H1467.5 M1429.9 312.0 H1445.2 M1451.0 312.0 H1467.5 M1429.9 92.5 H1445.2 M1451.0 92.5 H1467.5" stroke="#000" stroke-width="1.3" fill="none"/>
<text class="s" transform="translate(253.72 1707.90) scale(0.9450 1)" font-size="76.8">0</text>
<text class="s" transform="translate(587.75 1707.90) scale(0.9450 1)" font-size="76.8">20</text>
<text class="s" transform="translate(943.36 1707.90) scale(0.9450 1)" font-size="76.8">40</text>
<text class="s" transform="translate(1296.97 1707.90) scale(0.9450 1)" font-size="76.8">60</text>
<text class="s" transform="translate(155.34 1618.95) scale(0.9450 1)" font-size="76.8">-<tspan dx="2.54">1</tspan><tspan dx="-2.54">0</tspan></text>
<rect x="186.24" y="1612.31" width="13.92" height="7.94" fill="#fff"/>
<rect x="206.57" y="1612.31" width="13.36" height="7.94" fill="#fff"/>
<text class="s" transform="translate(219.87 1436.45) scale(0.9450 1)" font-size="76.8">0</text>
<text class="s" transform="translate(179.51 1253.95) scale(0.9450 1)" font-size="76.8"><tspan dx="2.54">1</tspan><tspan dx="-2.54">0</tspan></text>
<rect x="186.24" y="1247.31" width="13.92" height="7.94" fill="#fff"/>
<rect x="206.57" y="1247.31" width="13.36" height="7.94" fill="#fff"/>
<text class="s" transform="translate(179.51 1071.45) scale(0.9450 1)" font-size="76.8">20</text>
<text class="s" transform="translate(179.51 888.95) scale(0.9450 1)" font-size="76.8">30</text>
<text class="s" transform="translate(179.51 706.45) scale(0.9450 1)" font-size="76.8">40</text>
<text class="s" transform="translate(179.51 523.95) scale(0.9450 1)" font-size="76.8">50</text>
<text class="s" transform="translate(179.51 341.45) scale(0.9450 1)" font-size="76.8">60</text>
<text class="s" transform="translate(179.51 158.95) scale(0.9450 1)" font-size="76.8">70</text>
<text class="s" transform="translate(1479.57 1436.47) scale(0.9450 1)" font-size="76.8">0.0<tspan dx="2.54">1</tspan></text>
<rect x="1587.19" y="1429.83" width="13.92" height="7.94" fill="#fff"/>
<rect x="1607.52" y="1429.83" width="13.36" height="7.94" fill="#fff"/>
<text class="s" transform="translate(1479.57 1216.88) scale(0.9450 1)" font-size="76.8">0.02</text>
<text class="s" transform="translate(1479.57 997.28) scale(0.9450 1)" font-size="76.8">0.03</text>
<text class="s" transform="translate(1479.57 777.69) scale(0.9450 1)" font-size="76.8">0.04</text>
<text class="s" transform="translate(1479.57 558.09) scale(0.9450 1)" font-size="76.8">0.05</text>
<text class="s" transform="translate(1479.57 338.50) scale(0.9450 1)" font-size="76.8">0.06</text>
<text class="s" transform="translate(1479.57 118.90) scale(0.9450 1)" font-size="76.8">0.07</text>
<text class="r" font-size="113.7" transform="translate(0 1808.6) scale(1.050 1)" y="0" x="655.1 709.8 746.4 838.0 925.4">x(mm)</text>
<text class="r" font-size="112.0" transform="translate(106.3 1002.0) rotate(-90) scale(1.090 1)" y="0" x="-1.3 55.5 92.6 183.4 269.5">y(mm)</text>
<text class="s" transform="translate(460.14 145.90) scale(0.950 1)" font-size="77.0">I: <tspan class="d" font-size="68" dx="-1.5" dy="-1.2">θ</tspan><tspan font-size="58.6" dy="38.1">C</tspan><tspan dy="-37.9" dx="-0.8" stroke="#000" stroke-width="1.1">= </tspan><tspan dx="-0.4" dy="0.6" stroke="#000" stroke-width="1.1">-</tspan><tspan class="r" font-size="74.4" dx="1.4" dy="0.4">π</tspan><tspan dx="2.2" font-size="73.5">/</tspan><tspan dx="-2.0">2</tspan></text>
<text class="s" transform="translate(460.14 267.70) scale(0.950 1)" font-size="77.0">II: <tspan class="d" font-size="68" dx="-1.5" dy="-1.2">θ</tspan><tspan font-size="58.6" dy="38.1">C</tspan><tspan dy="-37.9" dx="-0.8" stroke="#000" stroke-width="1.1">= </tspan><tspan dx="-0.4" dy="0.6" stroke="#000" stroke-width="1.1">-</tspan><tspan class="r" font-size="74.4" dx="1.4" dy="0.4">π</tspan><tspan dx="2.2" font-size="73.5">/</tspan><tspan dx="-2.0">4</tspan></text>
<text class="s" transform="translate(460.14 389.40) scale(0.950 1)" font-size="77.0">III: <tspan class="d" font-size="68" dx="-1.5" dy="-1.2">θ</tspan><tspan font-size="58.6" dy="38.1">C</tspan><tspan dy="-37.9" dx="-0.8" stroke="#000" stroke-width="1.1">= </tspan><tspan dy="1.0">0</tspan></text>
<text class="r" transform="translate(1000.70 155.00) scale(0.965 1)" font-size="76.5">IV: <tspan class="d" font-size="68.1" dx="-3.9">θ</tspan><tspan font-size="58.5" dy="36.8">C</tspan><tspan dy="-36.8" dx="-1.7">= </tspan><tspan font-size="74.65" dx="0.3">π</tspan><tspan dx="1.6">/</tspan><tspan dx="-1.9">4</tspan></text>
<text class="r" transform="translate(1001.70 290.60) scale(0.965 1)" font-size="76.5">V: <tspan class="d" font-size="68.1" dx="-3.9">θ</tspan><tspan font-size="58.5" dy="36.8">C</tspan><tspan dy="-36.8" dx="-1.7">= </tspan><tspan font-size="74.65" dx="0.3">π</tspan><tspan dx="1.6">/</tspan><tspan dx="-1.9">2</tspan></text>
</svg></body></html>
